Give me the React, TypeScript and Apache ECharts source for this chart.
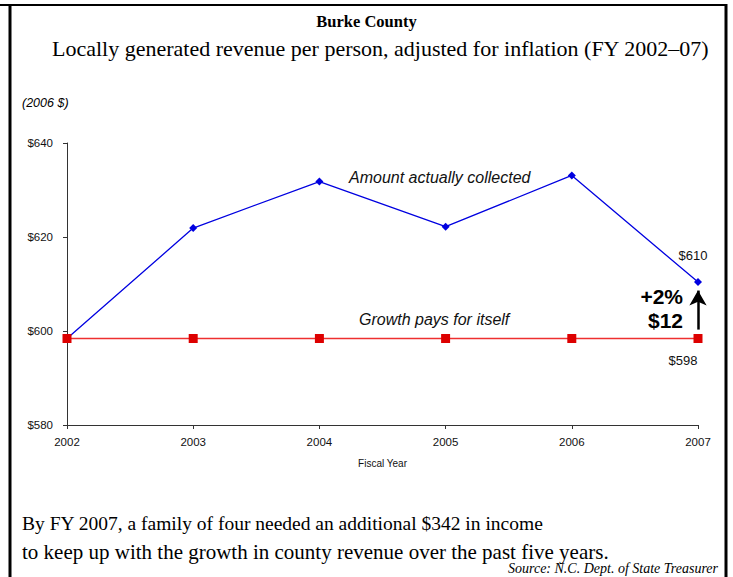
import React, { useEffect, useRef } from "react";
import * as echarts from "echarts";

const years = ["2002", "2003", "2004", "2005", "2006", "2007"];
const collected = [598.4, 621.9, 631.8, 622.2, 633.1, 610.4];
const growthPays = [598.4, 598.4, 598.4, 598.4, 598.4, 598.4];
const yTicks = [580, 600, 620, 640];
const arrowFrom = 600.3;
const arrowTo = 608.6;

export default function App() {
  const ref = useRef<HTMLDivElement>(null);
  useEffect(() => {
    const chart = echarts.init(ref.current!, null, { renderer: "svg" });
    const sans = "Liberation Sans, Arial, sans-serif";
    const serif = "Liberation Serif, Times New Roman, serif";
    chart.setOption({
      animation: false,
      backgroundColor: "#ffffff",
      grid: { left: 67, right: 35, top: 143, bottom: 152 },
      xAxis: {
        type: "category",
        data: years,
        boundaryGap: false,
        axisLine: { lineStyle: { color: "#333", width: 1 } },
        axisTick: { show: true, alignWithLabel: true, length: 4, lineStyle: { color: "#333" } },
        axisLabel: { color: "#111", fontFamily: sans, fontSize: 11.5, margin: 11 },
        name: "Fiscal Year",
        nameLocation: "middle",
        nameGap: 33,
        nameTextStyle: { color: "#111", fontFamily: sans, fontSize: 10 },
        splitLine: { show: false },
      },
      yAxis: {
        type: "value",
        min: yTicks[0],
        max: yTicks[yTicks.length - 1],
        interval: 20,
        axisLine: { show: true, lineStyle: { color: "#333", width: 1 } },
        axisTick: { show: true, length: 4, lineStyle: { color: "#333" } },
        axisLabel: { color: "#111", fontFamily: sans, fontSize: 11.5, margin: 14, formatter: (v: number) => "$" + v },
        splitLine: { show: false },
      },
      series: [
        {
          type: "line",
          data: collected.map((v, i) =>
            i === collected.length - 1
              ? {
                  value: v,
                  label: {
                    show: true,
                    position: "top",
                    offset: [-5, -11],
                    formatter: () => "$" + Math.round(v),
                    color: "#111",
                    fontFamily: sans,
                    fontSize: 13,
                  },
                }
              : v
          ),
          symbol: "diamond",
          symbolSize: 8,
          lineStyle: { color: "#0000e0", width: 1.3 },
          itemStyle: { color: "#0000e0" },
          z: 2,
        },
        {
          type: "line",
          data: growthPays.map((v, i) =>
            i === growthPays.length - 1
              ? {
                  value: v,
                  label: {
                    show: true,
                    position: "bottom",
                    offset: [-15, 6],
                    formatter: () => "$" + Math.round(v),
                    color: "#111",
                    fontFamily: sans,
                    fontSize: 13,
                  },
                }
              : v
          ),
          symbol: "rect",
          symbolSize: 9,
          lineStyle: { color: "#ee3030", width: 1.6 },
          itemStyle: { color: "#dd0000" },
          z: 3,
          markLine: {
            silent: true,
            symbol: ["none", "arrow"],
            symbolSize: [13, 15],
            label: { show: false },
            lineStyle: { color: "#000", width: 2.5, type: "solid" },
            data: [
              [
                { coord: ["2007", arrowFrom] },
                { coord: ["2007", arrowTo] },
              ],
            ],
          },
        },
      ],
      graphic: [
        { type: "line", shape: { x1: 0, y1: 5, x2: 727, y2: 5 }, style: { stroke: "#000", lineWidth: 2 } },
        { type: "line", shape: { x1: 10, y1: 4, x2: 10, y2: 577 }, style: { stroke: "#000", lineWidth: 3 } },
        { type: "line", shape: { x1: 726, y1: 4, x2: 726, y2: 577 }, style: { stroke: "#000", lineWidth: 3 } },
        {
          type: "text",
          left: "center",
          top: 13,
          style: { text: "Burke County", font: "bold 16.5px " + serif, fill: "#000" },
        },
        {
          type: "text",
          left: 52,
          top: 37,
          style: {
            text: "Locally generated revenue per person, adjusted for inflation (FY 2002\u201307)",
            font: "22px " + serif,
            fill: "#000",
          },
        },
        {
          type: "text",
          left: 22,
          top: 96,
          style: { text: "(2006 $)", font: "italic 12.5px " + sans, fill: "#000" },
        },
        {
          type: "text",
          left: 349,
          top: 169,
          style: { text: "Amount actually collected", font: "italic 16px " + sans, fill: "#111" },
        },
        {
          type: "text",
          left: 359,
          top: 311,
          style: { text: "Growth pays for itself", font: "italic 16px " + sans, fill: "#111" },
        },
        {
          type: "text",
          right: 50,
          top: 286,
          style: { text: "+2%", font: "bold 21px " + sans, fill: "#000", align: "right" },
        },
        {
          type: "text",
          right: 50,
          top: 310,
          style: { text: "$12", font: "bold 21px " + sans, fill: "#000", align: "right" },
        },
        {
          type: "text",
          left: 22,
          top: 513,
          style: {
            text: "By FY 2007, a family of four needed an additional $342 in income",
            font: "19.5px " + serif,
            fill: "#000",
          },
        },
        {
          type: "text",
          left: 22,
          top: 541,
          style: {
            text: "to keep up with the growth in county revenue over the past five years.",
            font: "21px " + serif,
            lineHeight: 17,
            fill: "#000",
          },
        },
        {
          type: "text",
          right: 15,
          top: 561,
          style: {
            text: "Source: N.C. Dept. of State Treasurer",
            font: "italic 14px " + serif,
            lineHeight: 12,
            fill: "#000",
            align: "right",
          },
        },
      ],
    });
    return () => chart.dispose();
  }, []);
  return (
    <div
      ref={ref}
      style={{ position: "fixed", left: 0, top: 0, width: 733, height: 577, background: "#fff" }}
    />
  );
}
